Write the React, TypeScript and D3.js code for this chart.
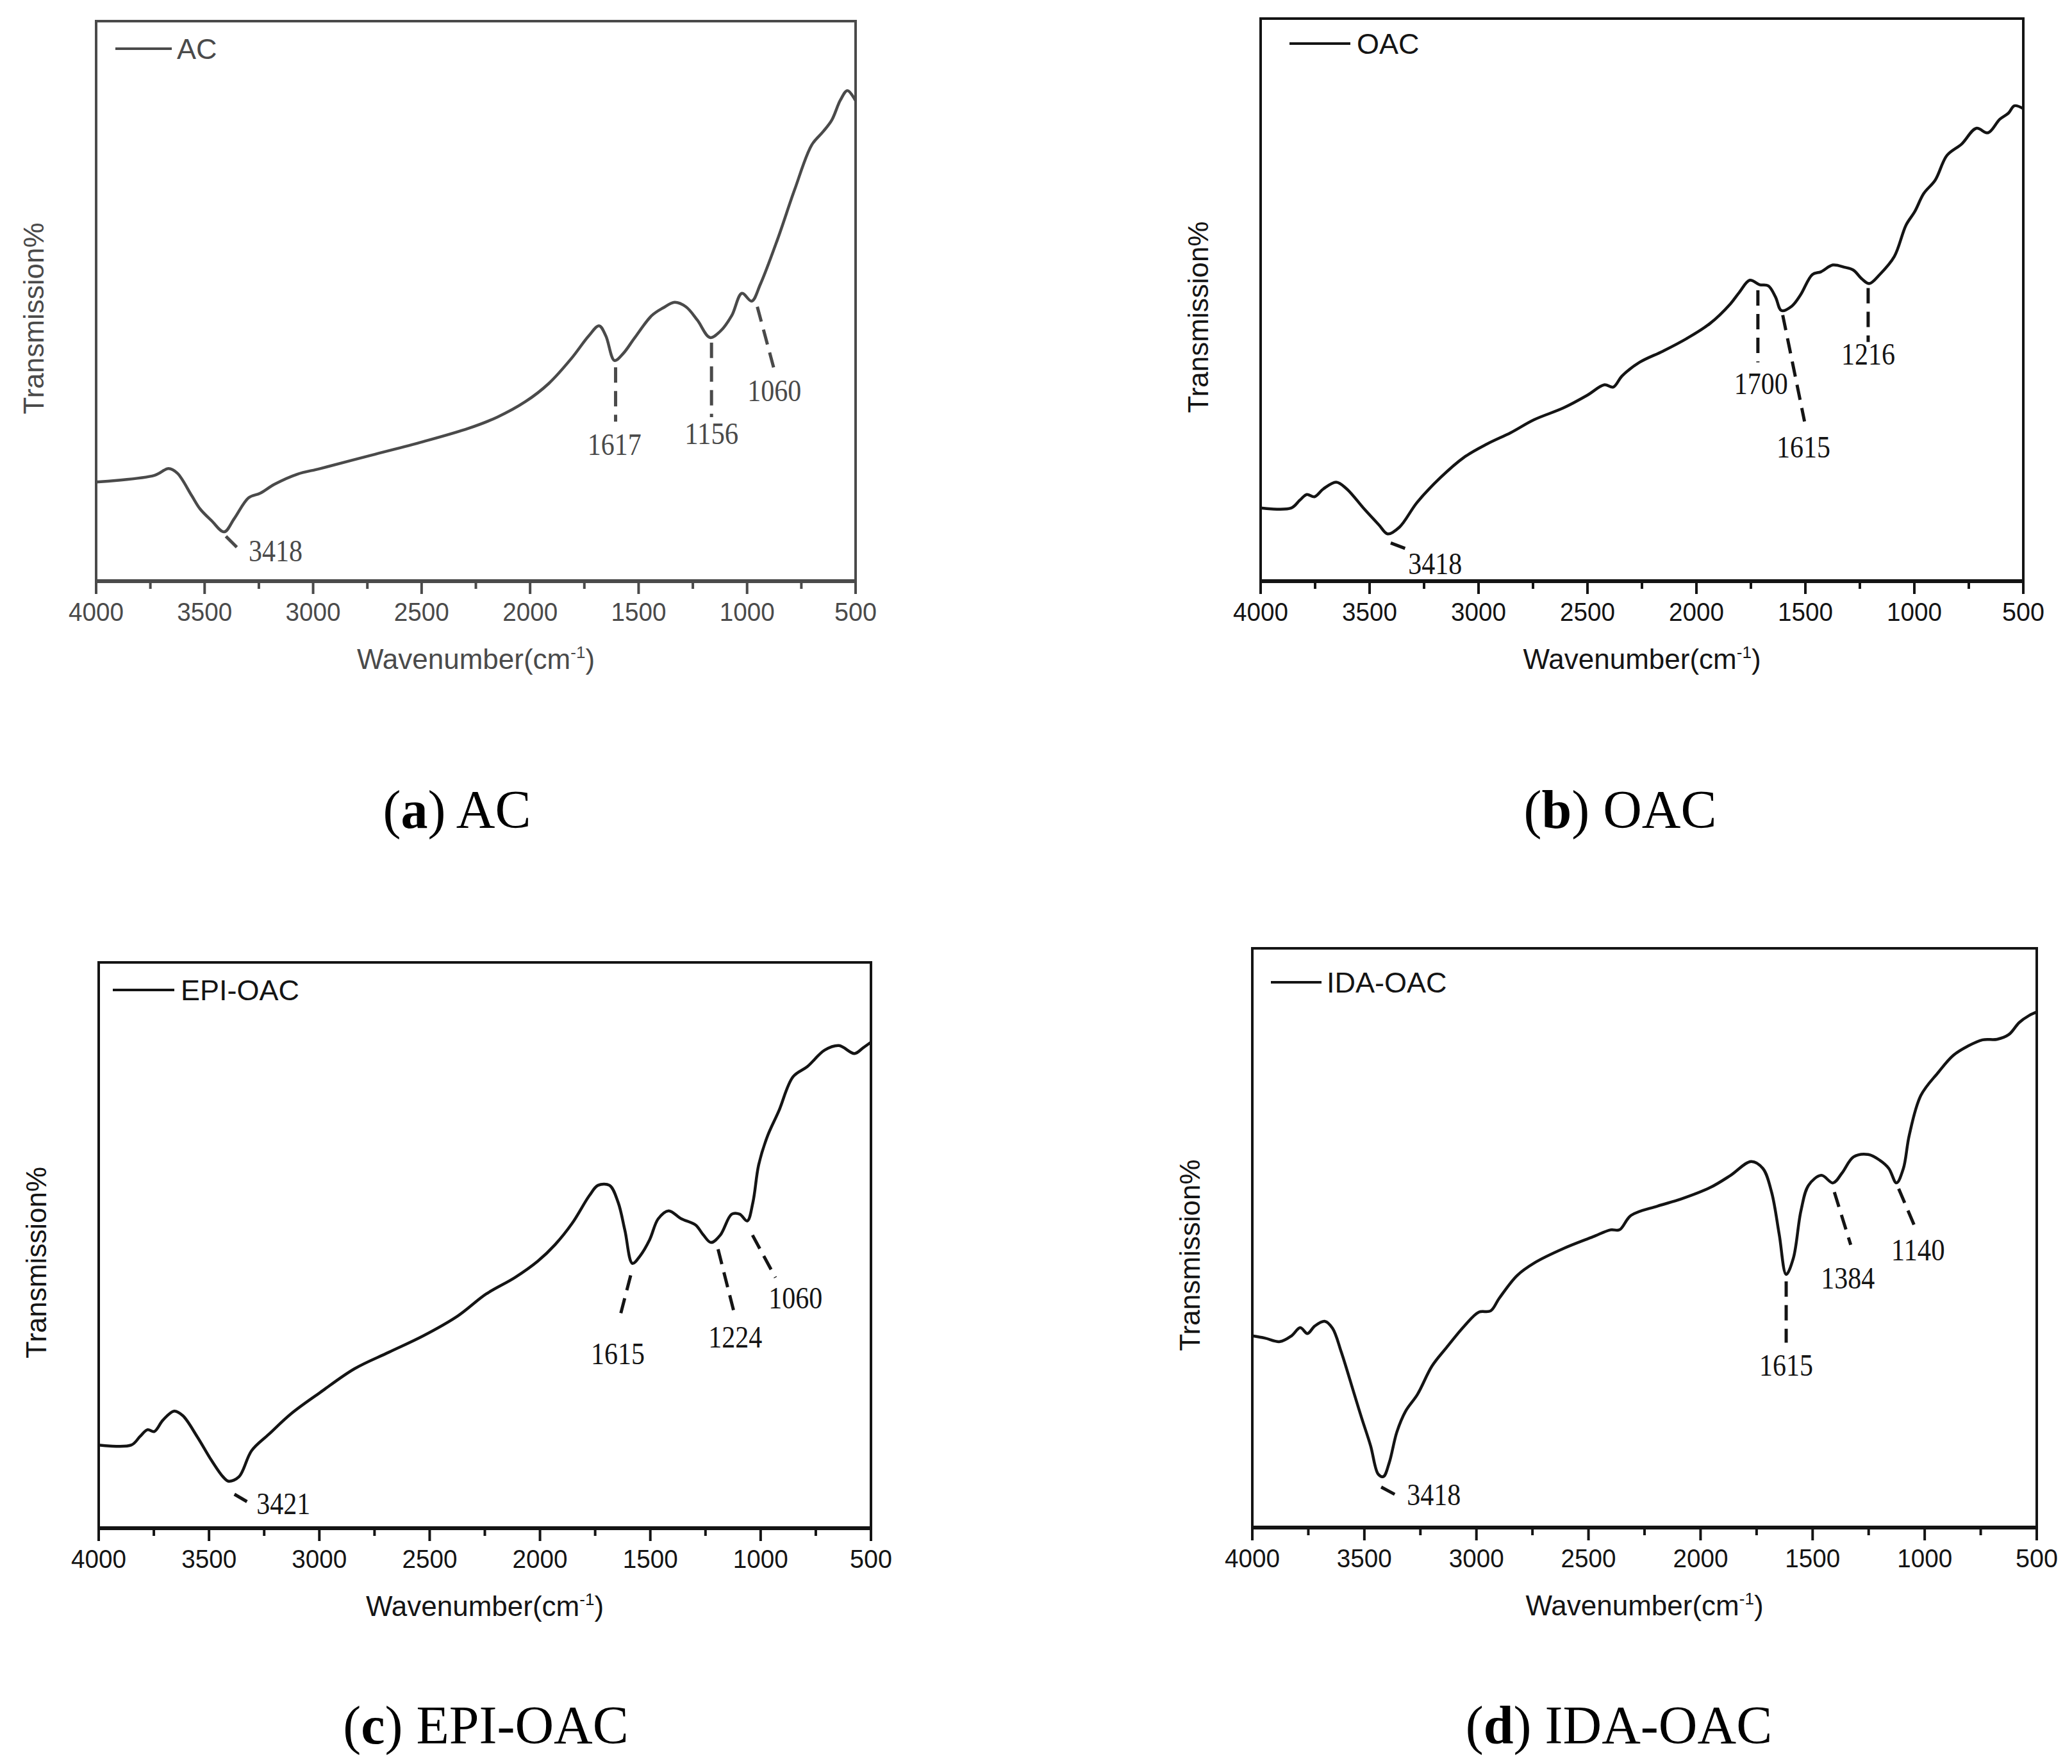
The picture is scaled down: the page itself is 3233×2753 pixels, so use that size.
import React from "react";
import * as d3 from "d3";

// ---------- data ----------
const xTicks = [4000, 3500, 3000, 2500, 2000, 1500, 1000, 500];
const xMinorTicks = [3750, 3250, 2750, 2250, 1750, 1250, 750];

// (a) AC
const wnA = [4000, 3731, 3666, 3626, 3560, 3521, 3468, 3410, 3363, 3297, 3244, 3178, 3073, 2968, 2731, 2494, 2283, 2151, 2020, 1914, 1809, 1730, 1682, 1651, 1611, 1572, 1519, 1440, 1387, 1334, 1282, 1229, 1171, 1124, 1071, 1024, 979, 939, 860, 781, 702, 649, 610, 570, 538, 500];
const tA = [17.7, 18.9, 20.1, 19.3, 15.3, 12.9, 10.8, 8.8, 11.2, 14.9, 15.7, 17.3, 19.1, 20.1, 22.5, 24.9, 27.3, 29.3, 32.1, 35.3, 39.8, 43.8, 45.6, 43.8, 39.4, 40.6, 43.4, 47.4, 48.8, 49.8, 49.0, 46.6, 43.5, 44.6, 47.4, 51.4, 50.0, 53.0, 61.0, 69.9, 77.9, 80.3, 82.3, 85.9, 87.6, 85.8];

// (b) OAC
const wnB = [4000, 3860, 3820, 3788, 3753, 3712, 3653, 3605, 3524, 3457, 3417, 3363, 3282, 3175, 3067, 2960, 2852, 2745, 2610, 2503, 2422, 2382, 2341, 2261, 2153, 2046, 1938, 1844, 1804, 1755, 1710, 1670, 1637, 1610, 1562, 1522, 1468, 1428, 1374, 1320, 1280, 1240, 1207, 1159, 1092, 1038, 998, 957, 904, 850, 783, 716, 662, 608, 568, 541, 500];
const tB = [13.0, 13.0, 14.4, 15.4, 15.0, 16.4, 17.6, 16.4, 12.8, 10.0, 8.4, 9.6, 14.0, 18.4, 22.0, 24.4, 26.4, 28.7, 30.8, 33.0, 34.9, 34.5, 36.5, 38.9, 40.9, 43.1, 45.8, 49.3, 51.3, 53.5, 52.7, 52.5, 50.5, 48.1, 48.9, 50.9, 54.5, 55.0, 56.2, 55.8, 55.3, 53.7, 52.9, 54.5, 57.7, 63.3, 65.7, 68.9, 71.3, 75.7, 77.7, 80.5, 79.7, 82.1, 83.2, 84.5, 84.0];

// (c) EPI-OAC
const wnC = [4000, 3852, 3813, 3779, 3748, 3709, 3658, 3619, 3554, 3489, 3437, 3411, 3364, 3307, 3229, 3126, 2996, 2840, 2685, 2529, 2373, 2244, 2114, 2010, 1932, 1854, 1776, 1737, 1685, 1646, 1615, 1581, 1547, 1503, 1464, 1417, 1360, 1295, 1261, 1225, 1183, 1131, 1095, 1061, 1035, 1009, 970, 918, 853, 788, 710, 645, 575, 536, 500];
const tC = [14.7, 14.7, 16.2, 17.4, 17.1, 19.1, 20.7, 19.9, 16.2, 12.0, 9.1, 8.3, 9.1, 13.7, 16.6, 20.3, 24.0, 28.2, 31.1, 34.0, 37.5, 41.4, 44.3, 47.2, 50.1, 53.9, 58.8, 60.6, 60.6, 57.6, 52.6, 46.8, 48.1, 51.0, 54.7, 56.1, 54.7, 53.6, 51.9, 50.5, 51.8, 55.5, 55.5, 54.3, 57.6, 64.2, 69.2, 73.7, 79.8, 81.6, 84.5, 85.3, 83.9, 84.9, 85.9];

// (d) IDA-OAC
const wnD = [4000, 3943, 3877, 3825, 3786, 3754, 3721, 3676, 3642, 3603, 3551, 3512, 3472, 3438, 3415, 3389, 3355, 3316, 3263, 3198, 3133, 3054, 2989, 2937, 2898, 2819, 2741, 2610, 2480, 2401, 2362, 2310, 2192, 2088, 1957, 1866, 1774, 1722, 1683, 1649, 1618, 1586, 1552, 1518, 1461, 1409, 1369, 1317, 1252, 1200, 1160, 1126, 1095, 1069, 1017, 939, 873, 808, 742, 677, 625, 578, 534, 500];
const tD = [33.1, 32.7, 32.1, 33.1, 34.5, 33.5, 34.8, 35.6, 34.4, 30.3, 23.8, 18.9, 14.1, 9.2, 8.8, 11.2, 16.5, 20.1, 23.0, 27.9, 31.1, 34.8, 37.2, 37.4, 39.6, 43.5, 45.7, 48.2, 50.2, 51.4, 51.4, 53.9, 55.5, 56.7, 58.7, 60.8, 63.2, 62.0, 57.9, 50.6, 43.7, 46.5, 54.7, 59.1, 60.8, 59.5, 61.2, 64.0, 64.4, 63.4, 62.0, 59.5, 62.0, 67.7, 74.6, 78.6, 81.5, 83.1, 84.2, 84.3, 85.1, 87.2, 88.4, 89.0];

// peak annotations: dashed leader (wavenumber, value) -> label
const annA = [
  { label: "3418", x1: 3402, y1: 8.0, x2: 3350, y2: 6.0, lx: 3297, ly: 3.6, anchor: "start" },
  { label: "1617", x1: 1606, y1: 38.2, x2: 1606, y2: 28.5, lx: 1611, ly: 22.5, anchor: "middle" },
  { label: "1156", x1: 1164, y1: 42.6, x2: 1164, y2: 29.3, lx: 1164, ly: 24.5, anchor: "middle" },
  { label: "1060", x1: 953, y1: 49.0, x2: 869, y2: 36.9, lx: 874, ly: 32.1, anchor: "middle" },
];
const annB = [
  { label: "3418", x1: 3403, y1: 6.8, x2: 3336, y2: 5.8, lx: 3323, ly: 1.2, anchor: "start" },
  { label: "1700", x1: 1718, y1: 51.7, x2: 1718, y2: 38.9, lx: 1704, ly: 33.3, anchor: "middle" },
  { label: "1615", x1: 1604, y1: 47.3, x2: 1504, y2: 28.4, lx: 1509, ly: 22.0, anchor: "middle" },
  { label: "1216", x1: 1212, y1: 52.1, x2: 1212, y2: 42.5, lx: 1212, ly: 38.5, anchor: "middle" },
];
const annC = [
  { label: "3421", x1: 3385, y1: 6.0, x2: 3328, y2: 4.7, lx: 3285, ly: 2.5, anchor: "start" },
  { label: "1615", x1: 1589, y1: 44.7, x2: 1641, y2: 36.9, lx: 1647, ly: 29.0, anchor: "middle" },
  { label: "1224", x1: 1193, y1: 49.3, x2: 1115, y2: 37.3, lx: 1115, ly: 31.9, anchor: "middle" },
  { label: "1060", x1: 1037, y1: 51.8, x2: 933, y2: 44.3, lx: 842, ly: 38.9, anchor: "middle" },
];
const annD = [
  { label: "3418", x1: 3425, y1: 7.0, x2: 3363, y2: 5.7, lx: 3310, ly: 3.9, anchor: "start" },
  { label: "1615", x1: 1618, y1: 42.5, x2: 1618, y2: 31.9, lx: 1618, ly: 26.2, anchor: "middle" },
  { label: "1384", x1: 1403, y1: 57.9, x2: 1330, y2: 48.8, lx: 1343, ly: 41.3, anchor: "middle" },
  { label: "1140", x1: 1116, y1: 58.5, x2: 1038, y2: 51.4, lx: 1030, ly: 46.1, anchor: "middle" },
];

const seriesNames = ["AC", "OAC", "EPI-OAC", "IDA-OAC"];
const captionLetters = ["a", "b", "c", "d"];

// ---------- layout ----------
const W = 3233;
const H = 2753;

type Ann = { label: string; x1: number; y1: number; x2: number; y2: number; lx: number; ly: number; anchor: string };

type PanelProps = {
  frame: { l: number; r: number; t: number; b: number };
  wn: number[];
  val: number[];
  ann: Ann[];
  name: string;
  color: string;
  legend: { x1: number; x2: number; dy: number; gap: number };
};

function Panel({ frame, wn, val, ann, name, color, legend }: PanelProps) {
  const x = d3.scaleLinear().domain([4000, 500]).range([frame.l, frame.r]);
  const y = d3.scaleLinear().domain([0, 100]).range([frame.b, frame.t]);
  const pts = wn.map((w, i) => [w, val[i]] as [number, number]);
  const line = d3
    .line<[number, number]>()
    .x((d) => x(d[0]))
    .y((d) => y(d[1]))
    .curve(d3.curveCatmullRom.alpha(0.5));
  const sans = "'Liberation Sans', Arial, Helvetica, sans-serif";
  const serif = "'Liberation Serif', 'Times New Roman', serif";
  const midX = (frame.l + frame.r) / 2;
  const midY = (frame.t + frame.b) / 2 + 27;
  return (
    <g>
      <rect
        x={frame.l}
        y={frame.t}
        width={frame.r - frame.l}
        height={frame.b - frame.t}
        fill="none"
        stroke={color}
        strokeWidth={4}
      />
      <line x1={frame.l - 2} x2={frame.r + 2} y1={frame.b} y2={frame.b} stroke={color} strokeWidth={6} />
      {xTicks.map((t) => (
        <g key={"t" + t}>
          <line x1={x(t)} x2={x(t)} y1={frame.b} y2={frame.b + 20} stroke={color} strokeWidth={4} />
          <text
            x={x(t)}
            y={frame.b + 62}
            textAnchor="middle"
            fontFamily={sans}
            fontSize={41}
            fill={color}
            textLength={t >= 1000 ? 86 : 66}
            lengthAdjust="spacingAndGlyphs"
          >
            {t}
          </text>
        </g>
      ))}
      {xMinorTicks.map((t) => (
        <line key={"m" + t} x1={x(t)} x2={x(t)} y1={frame.b} y2={frame.b + 12} stroke={color} strokeWidth={4} />
      ))}
      <text x={midX} y={frame.b + 137} textAnchor="middle" fontFamily={sans} fontSize={44} fill={color}>
        Wavenumber(cm
        <tspan dy={-17} fontSize={26}>-1</tspan>
        <tspan dy={17}>)</tspan>
      </text>
      <text
        transform={`translate(${frame.l - 82},${midY}) rotate(-90)`}
        textAnchor="middle"
        fontFamily={sans}
        fontSize={44}
        fill={color}
      >
        Transmission%
      </text>
      <line
        x1={frame.l + legend.x1}
        x2={frame.l + legend.x2}
        y1={frame.t + legend.dy}
        y2={frame.t + legend.dy}
        stroke={color}
        strokeWidth={4}
      />
      <text
        x={frame.l + legend.x2 + legend.gap}
        y={frame.t + legend.dy + 16}
        fontFamily={sans}
        fontSize={45}
        fill={color}
      >
        {name}
      </text>
      <path d={line(pts) || ""} fill="none" stroke={color} strokeWidth={4.5} strokeLinejoin="round" />
      {ann.map((a) => (
        <g key={a.label + a.lx}>
          <line
            x1={x(a.x1)}
            y1={y(a.y1)}
            x2={x(a.x2)}
            y2={y(a.y2)}
            stroke={color}
            strokeWidth={5}
            strokeDasharray="24 13"
          />
          <text
            x={x(a.lx)}
            y={y(a.ly)}
            textAnchor={a.anchor as any}
            fontFamily={serif}
            fontSize={48}
            fill={color}
            textLength={84}
            lengthAdjust="spacingAndGlyphs"
          >
            {a.label}
          </text>
        </g>
      ))}
    </g>
  );
}

function Caption({ cx, by, letter, text }: { cx: number; by: number; letter: string; text: string }) {
  return (
    <text
      x={cx}
      y={by}
      textAnchor="middle"
      fontFamily="'Liberation Serif', 'Times New Roman', serif"
      fontSize={84}
      fill="#000"
    >
      (<tspan fontWeight="bold">{letter}</tspan>) {text}
    </text>
  );
}

export default function App() {
  return (
    <svg
      width={W}
      height={H}
      viewBox={`0 0 ${W} ${H}`}
      style={{ position: "absolute", left: 0, top: 0, background: "#fff" }}
    >
      <rect x={0} y={0} width={W} height={H} fill="#fff" />
      <Panel
        frame={{ l: 150, r: 1335, t: 33, b: 907 }}
        wn={wnA}
        val={tA}
        ann={annA}
        name={seriesNames[0]}
        color="#4a4a4a"
        legend={{ x1: 30, x2: 118, dy: 43, gap: 8 }}
      />
      <Panel
        frame={{ l: 1967, r: 3157, t: 29, b: 907 }}
        wn={wnB}
        val={tB}
        ann={annB}
        name={seriesNames[1]}
        color="#141414"
        legend={{ x1: 45, x2: 140, dy: 39, gap: 10 }}
      />
      <Panel
        frame={{ l: 154, r: 1359, t: 1502, b: 2385 }}
        wn={wnC}
        val={tC}
        ann={annC}
        name={seriesNames[2]}
        color="#141414"
        legend={{ x1: 22, x2: 118, dy: 43, gap: 10 }}
      />
      <Panel
        frame={{ l: 1954, r: 3178, t: 1480, b: 2384 }}
        wn={wnD}
        val={tD}
        ann={annD}
        name={seriesNames[3]}
        color="#141414"
        legend={{ x1: 29, x2: 108, dy: 53, gap: 8 }}
      />
      <Caption cx={713} by={1292} letter={captionLetters[0]} text={seriesNames[0]} />
      <Caption cx={2528} by={1292} letter={captionLetters[1]} text={seriesNames[1]} />
      <Caption cx={758} by={2721} letter={captionLetters[2]} text={seriesNames[2]} />
      <Caption cx={2526} by={2721} letter={captionLetters[3]} text={seriesNames[3]} />
    </svg>
  );
}
